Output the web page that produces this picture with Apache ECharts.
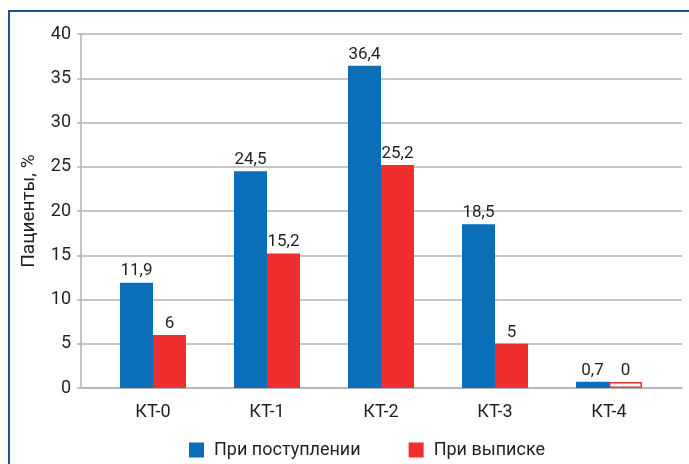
<!DOCTYPE html>
<html>
<head>
<meta charset="utf-8">
<script src="https://cdn.jsdelivr.net/npm/echarts@6/dist/echarts.min.js"></script>
<style>
  html, body { margin: 0; padding: 0; background: #fff; }
  #chart { width: 689px; height: 464px; }
</style>
</head>
<body>
<div id="chart"></div>
<script>
// Categories and values (percent of patients)
const categories = ['КТ-0', 'КТ-1', 'КТ-2', 'КТ-3', 'КТ-4'];
const admission = [11.9, 24.5, 36.4, 18.5, 0.7];
const discharge = [6, 15.2, 25.2, 5, 0];
const seriesNames = ['При поступлении', 'При выписке'];
const yTicks = { min: 0, max: 40, step: 5 };
const yAxisTitle = 'Пациенты, %';

const FONT = "Roboto, sans-serif";
const BLUE = '#0a6eb8';
const RED = '#ee2e2f';
const TEXT = '#231f20';
const GRID = '#b2b2b2';

const fmt = p => String(p.value).replace('.', ',');

const chart = echarts.init(document.getElementById('chart'), null, { renderer: 'canvas' });

const labelStyle = {
  show: true, position: 'top', distance: 3,
  fontFamily: FONT, fontSize: 17, color: TEXT, formatter: fmt
};

chart.setOption({
  animation: false,
  backgroundColor: '#fff',
  textStyle: { fontFamily: FONT },
  grid: [
    // frame with value axis and gridlines
    { left: 81, right: 7, top: 34, bottom: 76 },
    // inner band holding the bars
    { left: 96, right: 23, top: 34, bottom: 76 }
  ],
  xAxis: [
    {
      gridIndex: 0, type: 'value', min: 0, max: 1,
      axisLine: { show: true, onZero: false, lineStyle: { color: GRID, width: 1.5 } },
      axisTick: { show: false }, axisLabel: { show: false }, splitLine: { show: false }
    },
    {
      gridIndex: 1, type: 'category', data: categories,
      axisLine: { show: false }, axisTick: { show: false },
      axisLabel: { fontFamily: FONT, fontSize: 18, color: TEXT, margin: 15 }
    }
  ],
  yAxis: [
    {
      gridIndex: 0, type: 'value', min: yTicks.min, max: yTicks.max, interval: yTicks.step,
      name: yAxisTitle, nameLocation: 'middle', nameGap: 42, nameRotate: 90,
      nameTextStyle: { fontFamily: FONT, fontSize: 19, color: TEXT },
      axisLine: { show: true, lineStyle: { color: GRID, width: 1.5 } },
      axisTick: { show: true, length: 4, lineStyle: { color: GRID, width: 1.5 } },
      axisLabel: { fontFamily: FONT, fontSize: 18, color: TEXT, margin: 10 },
      splitLine: { lineStyle: { color: GRID, width: 1.5 } }
    },
    {
      gridIndex: 1, type: 'value', min: yTicks.min, max: yTicks.max, interval: yTicks.step,
      show: false, splitLine: { show: false }
    }
  ],
  legend: {
    left: 189, top: 441, padding: 0,
    itemWidth: 15, itemHeight: 15, itemGap: 48,
    icon: 'rect',
    textStyle: { fontFamily: FONT, fontSize: 18, color: TEXT, padding: [0, 0, 0, 5] },
    data: seriesNames
  },
  series: [
    {
      name: seriesNames[0], type: 'bar', xAxisIndex: 1, yAxisIndex: 1,
      data: admission, barWidth: 33, barGap: '0%',
      itemStyle: { color: BLUE },
      label: labelStyle
    },
    {
      name: seriesNames[1], type: 'bar', xAxisIndex: 1, yAxisIndex: 1,
      data: discharge.map(v => v === 0
        ? { value: v, itemStyle: { color: '#fff', borderColor: RED, borderWidth: 1.5 } }
        : v),
      barWidth: 33, barMinHeight: 6,
      itemStyle: { color: RED },
      label: labelStyle
    }
  ],
  graphic: [
    { type: 'line', shape: { x1: 8, y1: 11, x2: 689, y2: 11 }, style: { stroke: '#1d4f8e', lineWidth: 2 } },
    { type: 'line', shape: { x1: 9, y1: 10, x2: 9, y2: 464 }, style: { stroke: '#1d4f8e', lineWidth: 2 } }
  ]
});
</script>
</body>
</html>
